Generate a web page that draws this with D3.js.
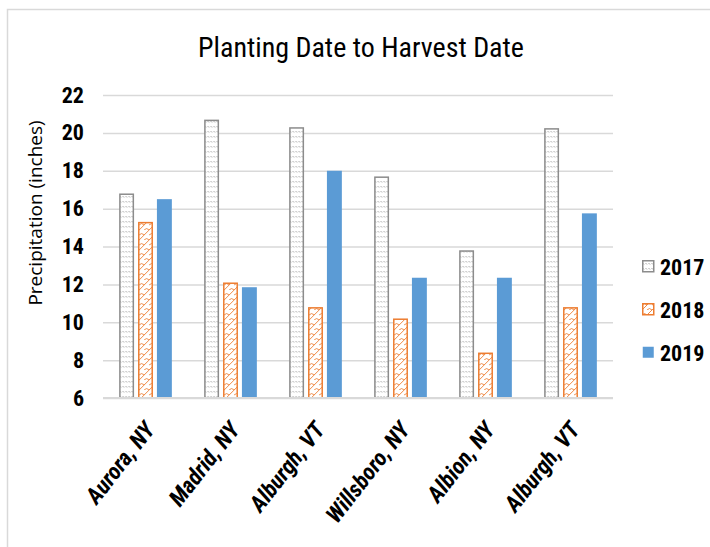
<!DOCTYPE html>
<html>
<head>
<meta charset="utf-8">
<script src="https://cdn.jsdelivr.net/npm/d3@7"></script>
<style>
  body { margin: 0; background: #fff; }
  svg { display: block; }
</style>
</head>
<body>
<svg id="chart" width="710" height="547"></svg>
<script>
// Chart data
var sites = ["Aurora, NY", "Madrid, NY", "Alburgh, VT", "Willsboro, NY", "Albion, NY", "Alburgh, VT"];
var years = ["2017", "2018", "2019"];
var precip2017 = [16.8, 20.7, 20.3, 17.7, 13.8, 20.25];
var precip2018 = [15.3, 12.1, 10.8, 10.2, 8.4, 10.8];
var precip2019 = [16.5, 11.85, 18.0, 12.35, 12.35, 15.75];
var yTicks = [6, 8, 10, 12, 14, 16, 18, 20, 22];

var series = [precip2017, precip2018, precip2019];
var narrow = "'Liberation Sans Narrow', 'Arial Narrow', 'Roboto Condensed', sans-serif";

var svg = d3.select("#chart");
var defs = svg.append("defs");

// 2017: white with small grey dashes
var p1 = defs.append("pattern").attr("id", "pat2017")
    .attr("patternUnits", "userSpaceOnUse").attr("width", 6).attr("height", 5);
p1.append("rect").attr("width", 6).attr("height", 5).attr("fill", "#fff");
p1.append("path").attr("d", "M0.5,1 L2,2.5 M3.5,1 L5,2.5")
    .attr("stroke", "#8c8c8c").attr("stroke-width", 0.8).attr("fill", "none");

// 2018: white with orange shingle lattice
var p2 = defs.append("pattern").attr("id", "pat2018")
    .attr("patternUnits", "userSpaceOnUse").attr("width", 10).attr("height", 10);
p2.append("rect").attr("width", 10).attr("height", 10).attr("fill", "#fff");
p2.append("path").attr("d", "M0,10 L10,0 M0,5 Q2.5,2 5,5 M5,10 Q7.5,7 10,10 M-5,5 L0,0")
    .attr("stroke", "#ED7D31").attr("stroke-width", 0.9).attr("fill", "none");

var fills = ["url(#pat2017)", "url(#pat2018)", "#5B9BD5"];
var strokes = ["#8c8c8c", "#ED7D31", "none"];

// Outer frame
svg.append("rect")
    .attr("x", 7.5).attr("y", 9.5)
    .attr("width", 720).attr("height", 560)
    .attr("fill", "none").attr("stroke", "#d9d9d9").attr("stroke-width", 1.5);

// Scales
var y = d3.scaleLinear().domain([6, 22]).range([398, 95]);
var x0 = d3.scaleBand().domain(d3.range(sites.length)).range([103, 613])
    .paddingInner(0.38).paddingOuter(0.19);
var x1 = d3.scaleBand().domain(years).range([0, x0.bandwidth()]).paddingInner(0.21);

// Gridlines
svg.append("g")
    .attr("transform", "translate(103,0)")
    .call(d3.axisLeft(y).tickValues(yTicks).tickSize(-510).tickFormat(""))
    .call(g => g.select(".domain").remove())
    .selectAll("line")
    .attr("stroke", "#d9d9d9").attr("stroke-width", 1.5);

// Bars
var groups = svg.append("g").selectAll("g")
    .data(sites.map((s, i) => i))
    .enter().append("g")
    .attr("transform", d => "translate(" + x0(d) + ",0)");

groups.selectAll("rect")
    .data(i => years.map((yr, k) => ({year: yr, k: k, value: series[k][i]})))
    .enter().append("rect")
    .attr("x", d => x1(d.year) + (d.k < 2 ? 0.75 : 0))
    .attr("y", d => y(d.value) + (d.k < 2 ? 0.75 : 0))
    .attr("width", d => x1.bandwidth() - (d.k < 2 ? 1.5 : 0))
    .attr("height", d => y(6) - y(d.value) - (d.k < 2 ? 0.75 : 0))
    .attr("fill", d => fills[d.k])
    .attr("stroke", d => strokes[d.k])
    .attr("stroke-width", 1.5);

// Baseline
svg.append("line")
    .attr("x1", 103).attr("x2", 613)
    .attr("y1", y(6)).attr("y2", y(6))
    .attr("stroke", "#d9d9d9").attr("stroke-width", 2);

// Y axis labels
svg.append("g")
    .attr("transform", "translate(103,0)")
    .call(d3.axisLeft(y).tickValues(yTicks).tickSize(0).tickPadding(19))
    .call(g => g.select(".domain").remove())
    .selectAll("text")
    .style("font-family", narrow)
    .style("font-weight", "bold")
    .style("font-size", "22px")
    .attr("fill", "#000");

// X axis labels
svg.append("g")
    .attr("transform", "translate(0," + y(6) + ")")
    .call(d3.axisBottom(x0).tickSize(0).tickFormat(i => sites[i]))
    .call(g => g.select(".domain").remove())
    .selectAll("text")
    .attr("transform", "translate(4,27) rotate(-52)")
    .attr("dy", "0.35em")
    .attr("y", 0)
    .attr("x", 0)
    .style("text-anchor", "end")
    .style("font-family", narrow)
    .style("font-weight", "bold")
    .style("font-style", "italic")
    .style("font-size", "23px")
    .attr("fill", "#000");

// Y axis title
svg.append("text")
    .attr("transform", "translate(42,213) rotate(-90)")
    .style("text-anchor", "middle")
    .style("font-family", "'Open Sans', sans-serif")
    .style("font-size", "19px")
    .attr("fill", "#000")
    .text("Precipitation (inches)");

// Title
svg.append("text")
    .attr("x", 361).attr("y", 57)
    .style("text-anchor", "middle")
    .style("font-family", narrow)
    .style("font-size", "28px")
    .attr("fill", "#000")
    .text("Planting Date to Harvest Date");

// Legend
var legend = svg.append("g").selectAll("g")
    .data(years)
    .enter().append("g")
    .attr("transform", (d, i) => "translate(642," + (267 + i * 43) + ")");

legend.append("rect")
    .attr("x", 0.75).attr("y", -6.25)
    .attr("width", 11).attr("height", 11)
    .attr("fill", (d, i) => fills[i])
    .attr("stroke", (d, i) => strokes[i])
    .attr("stroke-width", 1.5);

legend.append("text")
    .attr("x", 18).attr("y", 0)
    .attr("dy", "0.35em")
    .style("font-family", narrow)
    .style("font-weight", "bold")
    .style("font-size", "22px")
    .attr("fill", "#000")
    .text(d => d);
</script>
</body>
</html>
